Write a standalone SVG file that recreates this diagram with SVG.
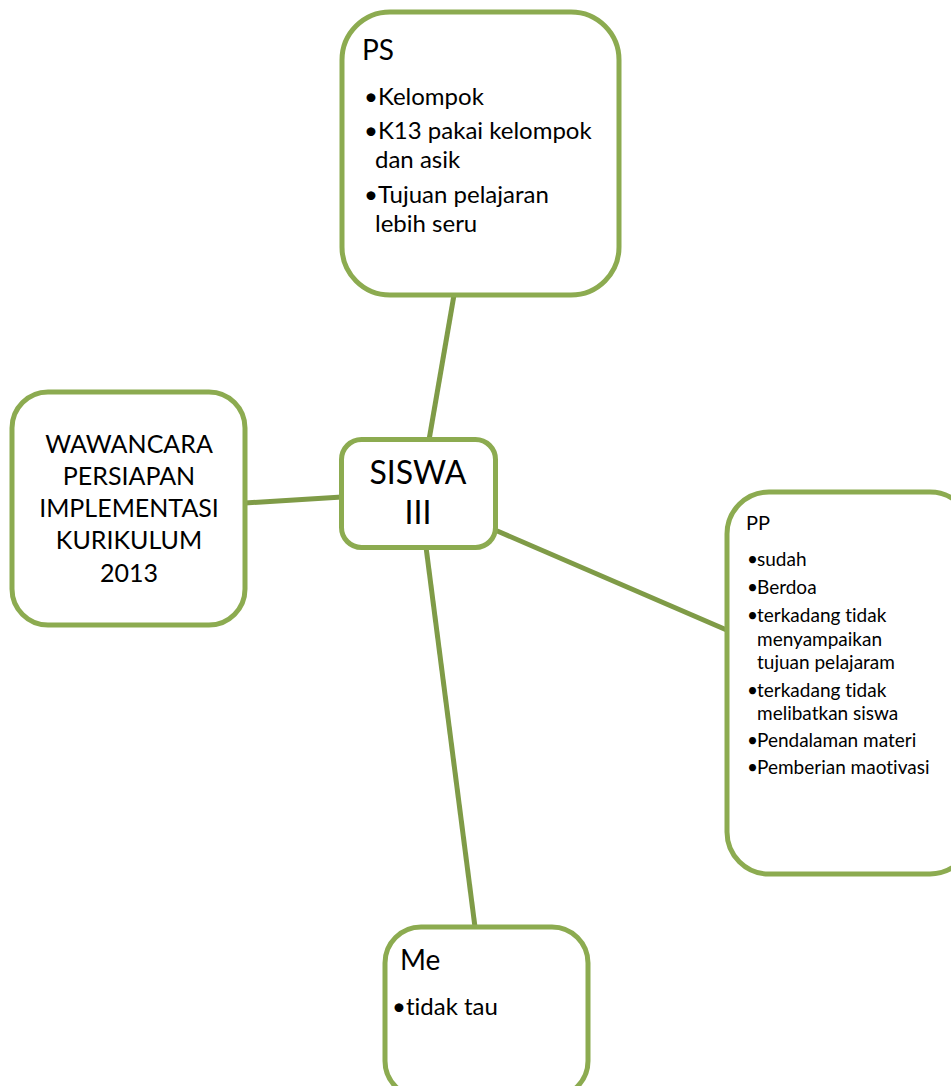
<svg xmlns="http://www.w3.org/2000/svg" width="951" height="1086" viewBox="0 0 951 1086">
  <style>
    .box { fill: #ffffff; stroke: #8cab50; stroke-width: 5; }
    .link { stroke: #7f9b47; stroke-width: 5; fill: none; }
    text { font-family: Lato, "Open Sans", "Liberation Sans", sans-serif; fill: #000000; font-variant-ligatures: none; font-feature-settings: "liga" 0, "dlig" 0; }
    .title { font-size: 28px; }
    .item { font-size: 24px; }
    .small { font-size: 19px; }
    .ptitle { font-size: 20px; }
  </style>
  <rect width="951" height="1086" fill="#ffffff"/>

  <!-- connectors from the centre node -->
  <g id="connectors">
    <line class="link" x1="454" y1="295" x2="429" y2="440"/>
    <line class="link" x1="245" y1="503" x2="342" y2="497"/>
    <line class="link" x1="495" y1="530" x2="729" y2="631"/>
    <line class="link" x1="426" y1="547" x2="475" y2="927"/>
  </g>

  <g id="node-ps">
    <rect class="box" x="342" y="12" width="277" height="283" rx="48" ry="48"/>
    <text class="title" x="362" y="60">PS</text>
    <text class="item" x="364" y="105">•Kelompok</text>
    <text class="item" x="364" y="139">•K13 pakai kelompok</text>
    <text class="item" x="375" y="168">dan asik</text>
    <text class="item" x="364" y="203">•Tujuan pelajaran</text>
    <text class="item" x="375" y="232">lebih seru</text>
  </g>

  <g id="node-wawancara">
    <rect class="box" x="12" y="392" width="233" height="233" rx="36" ry="36"/>
    <g text-anchor="middle" font-size="25">
      <text x="129" y="453">WAWANCARA</text>
      <text x="129" y="485">PERSIAPAN</text>
      <text x="129" y="517">IMPLEMENTASI</text>
      <text x="129" y="549">KURIKULUM</text>
      <text x="129" y="582">2013</text>
    </g>
  </g>

  <g id="node-siswa">
    <rect class="box" x="341.5" y="439.5" width="154" height="108" rx="20" ry="20"/>
    <g text-anchor="middle" font-size="32">
      <text x="418" y="484">SISWA</text>
      <text x="418" y="524">III</text>
    </g>
  </g>

  <g id="node-pp">
    <rect class="box" x="727" y="492" width="245" height="382" rx="42" ry="42"/>
    <text class="ptitle" x="746" y="530">PP</text>
    <text class="small" x="747" y="566">•</text><text class="small" x="757" y="566">sudah</text>
    <text class="small" x="747" y="594">•</text><text class="small" x="757" y="594">Berdoa</text>
    <text class="small" x="747" y="622">•</text><text class="small" x="757" y="622">terkadang tidak</text>
    <text class="small" x="757" y="646">menyampaikan</text>
    <text class="small" x="757" y="669">tujuan pelajaram</text>
    <text class="small" x="747" y="697">•</text><text class="small" x="757" y="697">terkadang tidak</text>
    <text class="small" x="757" y="720">melibatkan siswa</text>
    <text class="small" x="747" y="747">•</text><text class="small" x="757" y="747">Pendalaman materi</text>
    <text class="small" x="747" y="774">•</text><text class="small" x="757" y="774">Pemberian maotivasi</text>
  </g>

  <g id="node-me">
    <rect class="box" x="385" y="927" width="203" height="170" rx="36" ry="36"/>
    <text class="title" x="400" y="970">Me</text>
    <text class="item" x="392" y="1015">•tidak tau</text>
  </g>
</svg>
